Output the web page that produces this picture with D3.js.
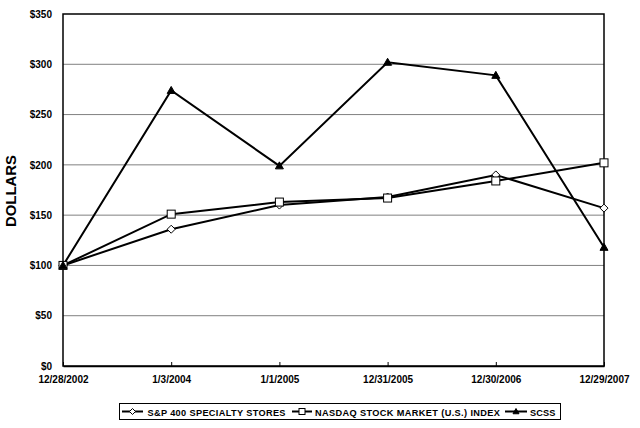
<!DOCTYPE html>
<html><head><meta charset="utf-8">
<script src="https://cdn.jsdelivr.net/npm/d3@7"></script>
<style>body{margin:0;background:#fff}svg{display:block}text{font-family:"Liberation Sans",Arial,sans-serif;font-weight:bold;fill:#000}</style>
</head><body><svg id="c" width="640" height="428"></svg>
<script>
const categories = ["12/28/2002","1/3/2004","1/1/2005","12/31/2005","12/30/2006","12/29/2007"];
const sp400 = [100,136,160,168,190,157];
const nasdaq = [100,151,163,167,184,202];
const scss = [100,274,199,302,289,118];
const yTicks = [0,50,100,150,200,250,300,350];
const seriesNames = ["S&P 400 SPECIALTY STORES","NASDAQ STOCK MARKET (U.S.) INDEX","SCSS"];

const svg = d3.select("#c");
const L=63,R=604,T=14,B=366;
const x = d3.scalePoint().domain(categories).range([L,R]);
const y = d3.scaleLinear().domain([0,350]).range([B,T]);

// gridlines
svg.append("g").selectAll("line").data(yTicks.filter(d=>d>0&&d<350)).join("line")
 .attr("x1",L).attr("x2",R).attr("y1",d=>y(d)).attr("y2",d=>y(d))
 .attr("stroke","#808080").attr("stroke-width",1);
// frame
svg.append("rect").attr("x",L).attr("y",T).attr("width",R-L).attr("height",B-T)
 .attr("fill","none").attr("stroke","#000").attr("stroke-width",1.5);

// y axis labels
const ya = svg.append("g").attr("transform",`translate(${L},0)`)
 .call(d3.axisLeft(y).tickValues(yTicks).tickSize(0).tickPadding(11).tickFormat(d=>"$"+d));
ya.select(".domain").remove();
ya.selectAll("text").attr("font-size","10px").style("font-family","Liberation Sans, Arial, sans-serif").attr("font-weight","bold");

// x axis
const xa = svg.append("g").attr("transform",`translate(0,${B})`)
 .call(d3.axisBottom(x).tickSizeInner(-4).tickSizeOuter(0).tickPadding(10));
xa.select(".domain").attr("stroke","#000").attr("stroke-width",1.5);
xa.selectAll(".tick line").attr("stroke","#000");
xa.selectAll("text").attr("font-size","10px").style("font-family","Liberation Sans, Arial, sans-serif").attr("font-weight","bold");

// y title
svg.append("text").attr("transform","translate(16,191) rotate(-90)").attr("text-anchor","middle")
 .attr("font-size","14px").attr("textLength",72).attr("lengthAdjust","spacingAndGlyphs").text("DOLLARS");

const line = d3.line().x((d,i)=>x(categories[i])).y(d=>y(d));
const series = [
 {name:seriesNames[0], data:sp400, marker:"diamond"},
 {name:seriesNames[1], data:nasdaq, marker:"square"},
 {name:seriesNames[2], data:scss, marker:"triangle"}
];
function marker(g, type, cx, cy, s){
  s = s||4;
  if(type==="diamond"){
    g.append("path").attr("d",`M${cx},${cy-s}L${cx+s},${cy}L${cx},${cy+s}L${cx-s},${cy}Z`)
     .attr("fill","#fff").attr("stroke","#000").attr("stroke-width",1);
  } else if(type==="square"){
    g.append("rect").attr("x",cx-s).attr("y",cy-s).attr("width",2*s).attr("height",2*s)
     .attr("fill","#fff").attr("stroke","#000").attr("stroke-width",1);
  } else {
    g.append("path").attr("d",`M${cx},${cy-s}L${cx+s},${cy+s*0.75}L${cx-s},${cy+s*0.75}Z`)
     .attr("fill","#000").attr("stroke","#000").attr("stroke-width",1);
  }
}
series.forEach(s=>{
  svg.append("path").datum(s.data).attr("d",line).attr("fill","none").attr("stroke","#000").attr("stroke-width",2);
});
series.forEach(s=>{
  const g = svg.append("g");
  s.data.forEach((v,i)=>marker(g,s.marker,x(categories[i]),y(v)));
});

// legend
svg.append("rect").attr("x",119.5).attr("y",403.5).attr("width",441).attr("height",16)
 .attr("fill","#fff").attr("stroke","#000").attr("stroke-width",1);
const legX = [[122,143,147.5,138],[292,312,315,185],[505,527,530,25.5]];
series.forEach((s,i)=>{
  const [a,b,t,w]=legX[i];
  const g = svg.append("g");
  g.append("line").attr("x1",a).attr("x2",b).attr("y1",411.5).attr("y2",411.5).attr("stroke","#000").attr("stroke-width",2);
  marker(g,s.marker,(a+b)/2,411.5,3);
  g.append("text").attr("x",t).attr("y",415.5).attr("font-size","9.2px")
   .attr("textLength",w).attr("lengthAdjust","spacing").text(s.name);
});
</script></body></html>
